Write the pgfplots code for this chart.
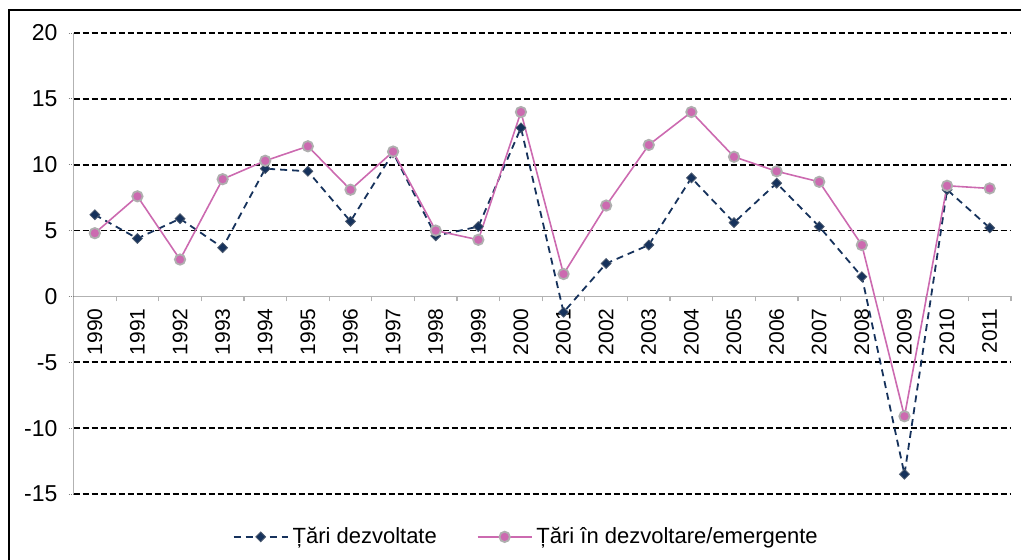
\documentclass[border=0pt]{standalone}
\usepackage{fontspec}
\setmainfont{Liberation Sans}
\usepackage{pgfplots}
\pgfplotsset{compat=1.18}
\definecolor{navy}{RGB}{22,50,92}
\definecolor{pinkc}{RGB}{204,106,176}
\definecolor{mgray}{RGB}{175,175,175}
\begin{document}
\begin{tikzpicture}[x=1pt,y=1pt]
\useasboundingbox (0,0) rectangle (510.5,280);
\draw[line width=1.1pt] (4.5,-5) -- (4.5,275) -- (520,275);
\begin{axis}[
  at={(36.75pt,33pt)}, anchor=south west,
  scale only axis, width=468.75pt, height=230.5pt,
  xmin=1989.5, xmax=2011.5, ymin=-15, ymax=20,
  axis x line*=middle, axis y line*=left,
  axis line style={draw=gray!60, line width=0.6pt},
  /pgf/number format/assume math mode=true,
  xtick={1990,...,2011},
  xticklabel style={rotate=90, anchor=east, font=\fontsize{10.5}{12}\selectfont, /pgf/number format/1000 sep={}},
  minor xtick={1989.5,1990.5,...,2011.5},
  major x tick style={draw=none},
  minor x tick style={draw=gray!60, line width=0.6pt},
  minor tick length=2.5pt,
  major tick length=2.5pt,
  tick align=outside,
  ytick={-15,-10,-5,5,10,15,20},
  extra y ticks={0},
  extra y tick style={grid=none},
  y tick style={draw=gray, densely dotted, line width=0.4pt},
  yticklabel style={font=\fontsize{11.5}{13}\selectfont, xshift=-2pt},
  ymajorgrids=true,
  major grid style={black, line width=0.8pt, dash pattern=on 3.2pt off 1.3pt},
  legend style={at={(0.484,-0.093)}, anchor=center, draw=none, fill=none,
    legend columns=2, font=\fontsize{11}{13}\selectfont,
    /tikz/every even column/.append style={column sep=18pt}},
  legend image code/.code={\draw[mark repeat=2,mark phase=2] plot coordinates {(0pt,0pt)(13.5pt,0pt)(27pt,0pt)};},
]
\addplot[navy, line width=0.9pt, dash pattern=on 3.5pt off 2.5pt, mark=square*, mark size=1.75pt,
  mark options={solid, rotate=45, fill=navy, draw=gray!50!navy, line width=0.4pt}] coordinates {
(1990,6.2) (1991,4.4) (1992,5.9) (1993,3.7) (1994,9.7) (1995,9.5) (1996,5.7) (1997,10.9)
(1998,4.6) (1999,5.3) (2000,12.8) (2001,-1.2) (2002,2.5) (2003,3.9) (2004,9.0) (2005,5.6)
(2006,8.6) (2007,5.3) (2008,1.5) (2009,-13.5) (2010,8.1) (2011,5.2)};
\addlegendentry{Țări dezvoltate}
\addplot[pinkc, line width=0.8pt, mark=*, mark size=2.6pt,
  mark options={fill=pinkc, draw=mgray, line width=0.9pt}] coordinates {
(1990,4.8) (1991,7.6) (1992,2.8) (1993,8.9) (1994,10.3) (1995,11.4) (1996,8.1) (1997,11.0)
(1998,5.0) (1999,4.3) (2000,14.0) (2001,1.7) (2002,6.9) (2003,11.5) (2004,14.0) (2005,10.6)
(2006,9.5) (2007,8.7) (2008,3.9) (2009,-9.1) (2010,8.4) (2011,8.2)};
\addlegendentry{Țări în dezvoltare/emergente}
\end{axis}
\end{tikzpicture}
\end{document}
